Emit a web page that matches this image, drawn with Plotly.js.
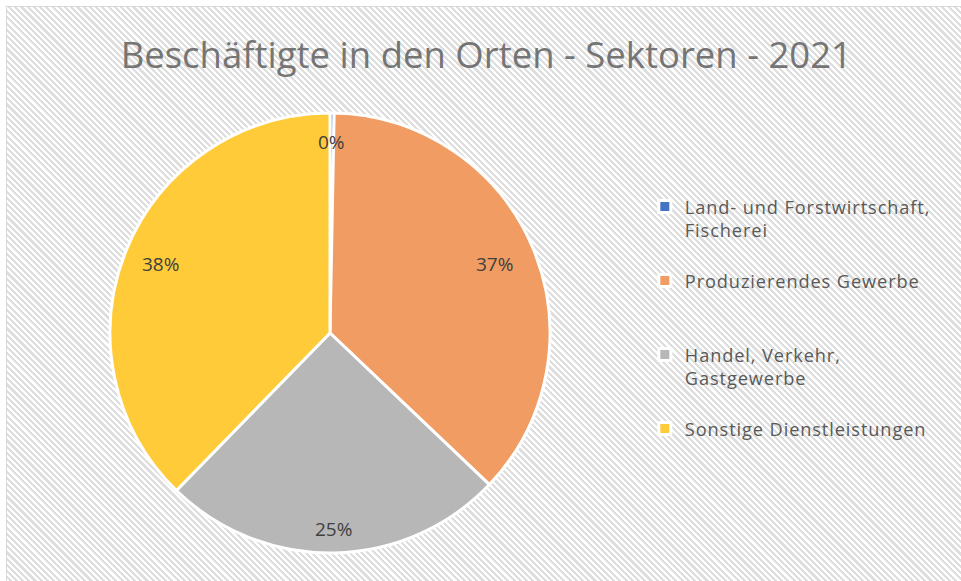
<!DOCTYPE html>
<html>
<head>
<meta charset="utf-8">
<script src="https://cdn.plot.ly/plotly-3.0.1.min.js"></script>
<style>
  html, body { margin: 0; padding: 0; background: #ffffff; width: 961px; height: 581px; overflow: hidden; }
  #bg {
    position: absolute; left: 6px; top: 6px; width: 980px; height: 600px;
    border: 1.5px solid #d9d9d9;
    background: repeating-linear-gradient(45deg, #ffffff 0px, #ffffff 2.2px, #dedede 2.2px, #dedede 4.4px);
  }
  #chart { position: absolute; left: 0; top: 0; width: 961px; height: 581px; }
  #chart .legendtext { letter-spacing: 0.9px; }
  #chart .legend .scrollbox { clip-path: none !important; }
</style>
</head>
<body>
<div id="bg"></div>
<div id="chart"></div>
<script>
const categories = [
  "Land- und Forstwirtschaft,<br>Fischerei<br> ",
  "Produzierendes Gewerbe<br> <br> ",
  "Handel, Verkehr,<br>Gastgewerbe<br> ",
  "Sonstige Dienstleistungen<br> <br> "
];
const shares = [0.3, 36.8, 25.2, 37.7];
const sliceColors = ["#4472c4", "#f19c63", "#b7b7b7", "#ffcb38"];
const titleText = "Beschäftigte in den Orten - Sektoren - 2021";

// pie geometry (paper fractions)
const pieDomX = [0.1145, 0.5723];
const pieDomY = [0.0482, 0.8055];
// radial placement of the percentage labels (fraction of radius), Excel "best fit" look
const labelRadius = [0.87, 0.81, 0.89, 0.83];

const trace = {
  type: "pie",
  labels: categories,
  values: shares,
  sort: false,
  direction: "clockwise",
  rotation: 0,
  marker: { colors: sliceColors, line: { color: "#ffffff", width: 3 } },
  textinfo: "none",
  domain: { x: pieDomX, y: pieDomY },
  hoverinfo: "none"
};

// percentage labels derived from the data (mid-angle of each slice)
const W = 961, H = 581;
const cx = (pieDomX[0] + pieDomX[1]) / 2 * W;
const cyUp = (pieDomY[0] + pieDomY[1]) / 2 * H;
const R = Math.min((pieDomX[1] - pieDomX[0]) * W, (pieDomY[1] - pieDomY[0]) * H) / 2;
const total = shares.reduce((a, b) => a + b, 0);
let cum = 0;
const annotations = shares.map((v, i) => {
  const mid = (cum + v / 2) / total * 2 * Math.PI;
  cum += v;
  const px = cx + labelRadius[i] * R * Math.sin(mid);
  const py = cyUp + labelRadius[i] * R * Math.cos(mid);
  return {
    text: Math.round(v / total * 100) + "%",
    xref: "paper", yref: "paper", x: px / W, y: py / H,
    xanchor: "center", yanchor: "middle", showarrow: false,
    font: { family: "Open Sans", size: 19, color: "#404040" }
  };
});

const layout = {
  width: W, height: H,
  margin: { l: 0, r: 0, t: 0, b: 0 },
  paper_bgcolor: "rgba(0,0,0,0)",
  plot_bgcolor: "rgba(0,0,0,0)",
  title: {
    text: titleText,
    font: { family: "Open Sans", size: 36.5, color: "#757575" },
    x: 0.506, xanchor: "center", y: 0.905, yanchor: "middle"
  },
  showlegend: true,
  legend: {
    x: 0.671, xanchor: "left", y: 0.676, yanchor: "top",
    bgcolor: "rgba(0,0,0,0)",
    font: { family: "Open Sans", size: 18.2, color: "#595959" },
    valign: "top",
    traceorder: "normal"
  },
  annotations: annotations
};

Plotly.newPlot("chart", [trace], layout, { displayModeBar: false, staticPlot: true });
</script>
</body>
</html>
